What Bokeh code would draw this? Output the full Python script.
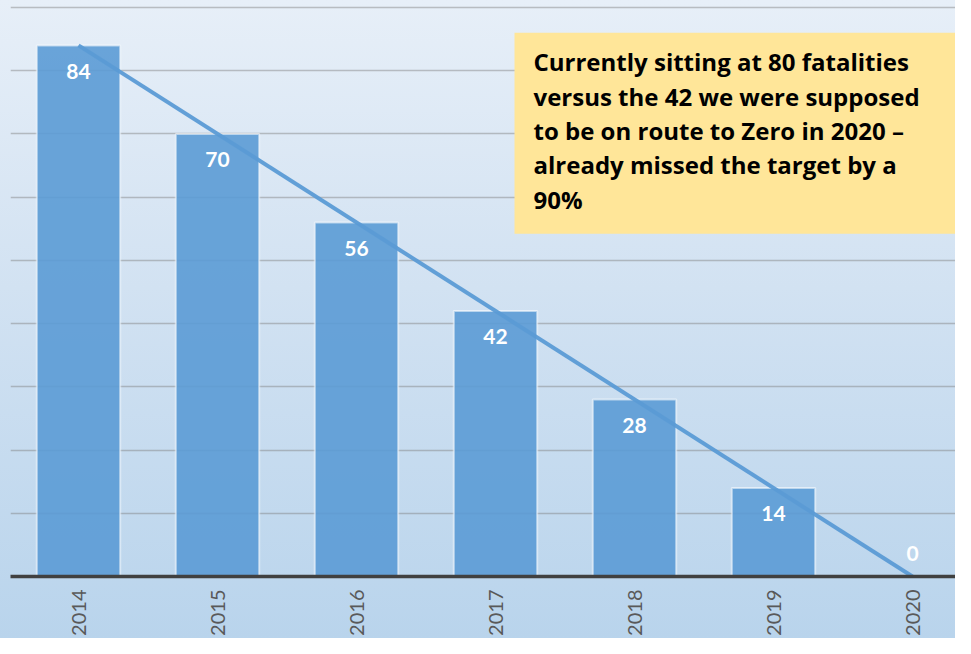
import math
from bokeh.plotting import figure
from bokeh.models import Range1d, FixedTicker, BoxAnnotation, Label, ColumnDataSource
from bokeh.core.properties import value
from bokeh.embed import file_html
from bokeh.resources import INLINE

years = ["2014", "2015", "2016", "2017", "2018", "2019", "2020"]
target_fatalities = [84, 70, 56, 42, 28, 14, 0]
grid_values = [0, 10, 20, 30, 40, 50, 60, 70, 80, 90]
note = ("Currently sitting at 80 fatalities\n"
        "versus the 42 we were supposed\n"
        "to be on route to Zero in 2020 \u2013\n"
        "already missed the target by  a\n"
        "90%")

idx = list(range(len(years)))
label_offsets = [26 if v > 0 else -23 for v in target_fatalities]
src = ColumnDataSource(dict(x=idx, top=target_fatalities,
                            lbl=[str(v) for v in target_fatalities],
                            off=label_offsets))

W, H = 955, 638
px = 139.0          # pixels per category
left_border = 10
bottom_border = 62
frame_w = W - left_border
frame_h = H - bottom_border
x0 = -(78 - left_border) / px
x1 = x0 + frame_w / px
ytop = 91.1

def xval(sx):
    return (sx - 78) / px

p = figure(width=W, height=H, output_backend="svg", toolbar_location=None,
           x_range=Range1d(x0, x1), y_range=Range1d(0, ytop),
           min_border_left=left_border, min_border_right=0,
           min_border_top=0, min_border_bottom=bottom_border)
p.styles = {"background": "linear-gradient(to bottom, #e7eff8 0%, #d2e2f2 45%, #b9d4ec 100%)"}
p.background_fill_alpha = 0
p.border_fill_alpha = 0
p.outline_line_color = None

p.yaxis.visible = False
p.xgrid.visible = False
p.ygrid.ticker = FixedTicker(ticks=grid_values)
p.ygrid.grid_line_color = "#7f7f7f"
p.ygrid.grid_line_alpha = 0.45
p.ygrid.grid_line_width = 1.5

ax = p.xaxis[0]
ax.ticker = FixedTicker(ticks=idx)
ax.major_label_overrides = {i: y for i, y in zip(idx, years)}
ax.major_label_orientation = math.pi / 2
ax.major_label_text_font = "Lato"
ax.major_label_text_font_size = "20px"
ax.major_label_text_color = "#595959"
ax.major_label_standoff = 13
ax.major_tick_line_color = None
ax.minor_tick_line_color = None
ax.major_tick_out = 0
ax.major_tick_in = 0
ax.minor_tick_out = 0
ax.minor_tick_in = 0
ax.axis_line_color = "#404040"
ax.axis_line_width = 3.5

p.vbar(x="x", top="top", width=0.6, source=src,
       fill_color="#5b9bd5", fill_alpha=0.9,
       line_color="white", line_alpha=0.55, line_width=2)

p.line(x=[idx[0], idx[-1]], y=[target_fatalities[0], target_fatalities[-1]],
       line_color="#5b9bd5", line_width=4, line_alpha=0.95)

p.text(x="x", y="top", text="lbl", y_offset="off", source=src,
       text_color="white", text_font=value("Lato"), text_font_style="bold",
       text_font_size="21px", text_align="center", text_baseline="middle")

box = BoxAnnotation(left=xval(514), right=xval(955), top=86.0, bottom=54.2,
                    fill_color="#ffe699", fill_alpha=1.0, line_color=None, level="overlay")
p.add_layout(box)

lab = Label(x=xval(533), y=84.0, text=note, text_font="Open Sans",
            text_font_style="bold", text_font_size="24px", text_color="black",
            text_baseline="top", text_align="left", text_line_height=1.04,
            level="overlay")
p.add_layout(lab)

open("out.html", "w").write(file_html(p, INLINE))
